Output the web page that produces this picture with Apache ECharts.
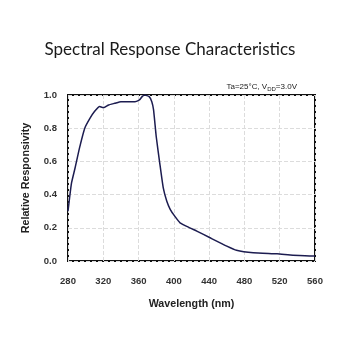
<!DOCTYPE html>
<html><head><meta charset="utf-8">
<script src="https://cdn.jsdelivr.net/npm/echarts@6/dist/echarts.min.js"></script>
<style>html,body{margin:0;padding:0;background:#fff}#c{width:340px;height:340px}</style>
</head><body><div id="c"></div>
<script>
const wavelengths = [280,282,284,288,293,299,305,310,316,319,321,326,333,340,348,356,361,364,367,372,375,377,380,384,388,392,396,401,407,418,426,441,460,471,490,517,535,558,560];
const responsivity = [0.30,0.39,0.47,0.56,0.68,0.80,0.86,0.90,0.93,0.925,0.925,0.94,0.95,0.96,0.96,0.96,0.97,0.99,1.00,0.99,0.96,0.91,0.75,0.59,0.44,0.36,0.31,0.27,0.23,0.20,0.18,0.14,0.09,0.065,0.05,0.043,0.035,0.03,0.03];
const xTicks = [280,320,360,400,440,480,520,560];
const yTicks = [0.0,0.2,0.4,0.6,0.8,1.0];
const titleText = 'Spectral Response Characteristics';
const xName = 'Wavelength (nm)';
const yName = 'Relative Responsivity';

const chart = echarts.init(document.getElementById('c'), null, {renderer:'canvas'});
chart.setOption({
  backgroundColor:'#fff',
  animation:false,
  title:[
    {text:titleText, left:'center', top:36, textStyle:{fontFamily:'Lato', fontWeight:'normal', fontSize:17, color:'#1a1a1a'}},
    {text:'{n|Ta=25°C, V}{s|DD}{n|=3.0V}', right:38, top:77,
     textStyle:{fontWeight:'normal', fontSize:8, rich:{n:{fontFamily:'Liberation Sans', fontWeight:'normal', fontSize:8, color:'#222'}, s:{fontFamily:'Liberation Sans', fontWeight:'normal', fontSize:6, color:'#222', verticalAlign:'bottom', padding:[4,0,0,0]}}}}
  ],
  grid:{left:68, right:25, top:95, bottom:79, show:true, borderColor:'#111', borderWidth:2},
  xAxis:{type:'value', min:280, max:560, interval:40, name:xName, nameLocation:'middle', nameGap:38,
    nameTextStyle:{fontFamily:'Liberation Sans', fontWeight:'bold', fontSize:10.7, color:'#222'},
    axisLine:{show:false}, axisTick:{show:false},
    axisLabel:{fontFamily:'Liberation Sans', fontWeight:'bold', fontSize:9.5, color:'#333', margin:15,
      formatter:v=>xTicks.includes(v)?String(v):''},
    splitLine:{show:true, lineStyle:{type:'dashed', color:'#dcdcdc', width:1}}},
  yAxis:{type:'value', min:0, max:1, interval:0.2, name:yName, nameLocation:'middle', nameGap:36,
    nameTextStyle:{fontFamily:'Liberation Sans', fontWeight:'bold', fontSize:10.7, color:'#222'},
    axisLine:{show:false}, axisTick:{show:false},
    axisLabel:{fontFamily:'Liberation Sans', fontWeight:'bold', fontSize:9.5, color:'#333', margin:11,
      formatter:v=>{const t=yTicks.find(y=>Math.abs(y-v)<1e-6);return t===undefined?'':t.toFixed(1);}},
    splitLine:{show:true, lineStyle:{type:'dashed', color:'#dcdcdc', width:1}}},
  series:[{type:'line', data:wavelengths.map((w,i)=>[w,responsivity[i]]), showSymbol:false, smooth:0.15,
    lineStyle:{color:'#1c1c50', width:1.5}, clip:true}]
});
</script></body></html>
